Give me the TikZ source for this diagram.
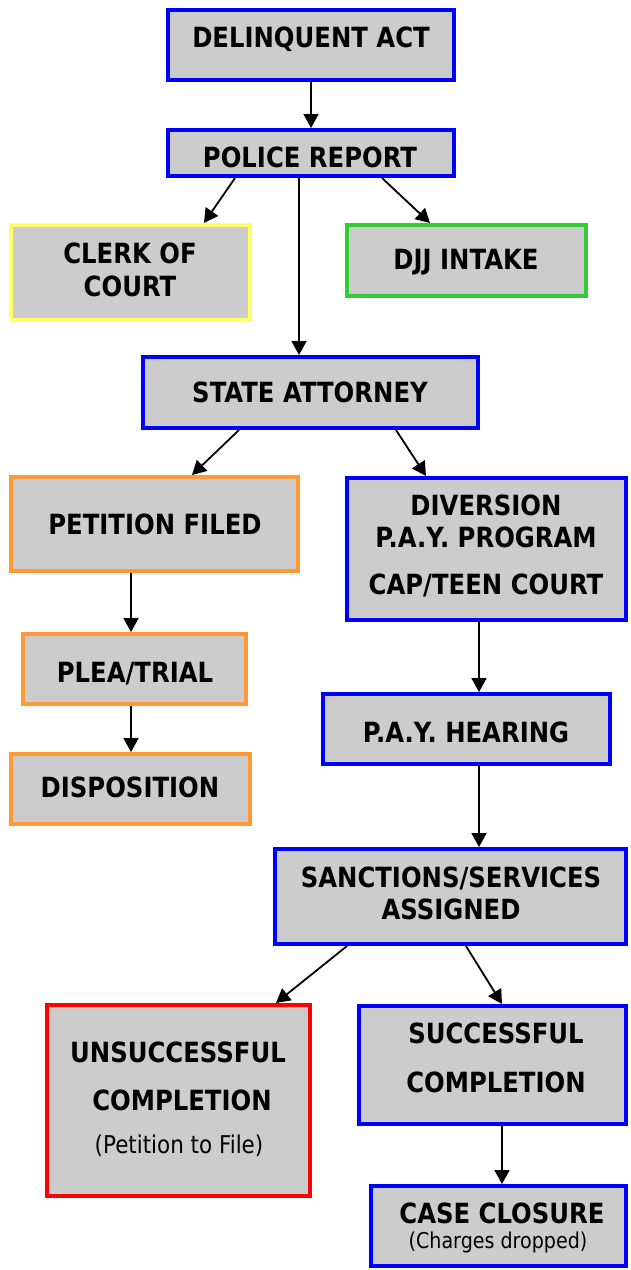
\documentclass[tikz,border=0pt]{standalone}
\usepackage{fontspec}
\setmainfont{DejaVu Sans}[FakeStretch=0.875]
\usetikzlibrary{arrows.meta}
\definecolor{bxfill}{HTML}{CCCCCC}
\definecolor{bblue}{HTML}{0000FF}
\definecolor{byellow}{HTML}{FFFF66}
\definecolor{bgreen}{HTML}{33CC33}
\definecolor{borange}{HTML}{FF9933}
\definecolor{bred}{HTML}{FF0000}
\tikzset{
  box/.style={rectangle, fill=bxfill, line width=4pt, inner sep=0pt},
  lbl/.style={anchor=base, inner sep=0pt, font=\fontsize{27.8}{32}\selectfont\bfseries},
  sublbl/.style={anchor=base, inner sep=0pt, font=\fontsize{24.5}{28}\selectfont},
  sublblb/.style={anchor=base, inner sep=0pt, font=\fontsize{21.8}{26}\selectfont},
  arr/.style={line width=1.8pt, -{Triangle[length=14pt,width=15pt]}}
}
\begin{document}
\begin{tikzpicture}[x=1pt,y=-1pt]
\useasboundingbox (0,0) rectangle (630,1270);
% boxes
\node[box, draw=bblue, minimum width=286pt, minimum height=70pt] (da) at (311,45) {};
\node[box, draw=bblue, minimum width=286pt, minimum height=46pt] (pr) at (311,153) {};
\node[box, draw=byellow, minimum width=239pt, minimum height=95pt] (clerk) at (130.5,272.5) {};
\node[box, draw=bgreen, minimum width=239pt, minimum height=71pt] (djj) at (466.5,260.5) {};
\node[box, draw=bblue, minimum width=335pt, minimum height=71pt] (sa) at (310.5,392.5) {};
\node[box, draw=borange, minimum width=287pt, minimum height=94pt] (pet) at (154.5,524) {};
\node[box, draw=bblue, minimum width=279pt, minimum height=142pt] (div) at (486.5,549) {};
\node[box, draw=borange, minimum width=223pt, minimum height=70pt] (plea) at (134.5,669) {};
\node[box, draw=borange, minimum width=239pt, minimum height=70pt] (disp) at (130.5,789) {};
\node[box, draw=bblue, minimum width=287pt, minimum height=70pt] (pay) at (466.5,729) {};
\node[box, draw=bblue, minimum width=351pt, minimum height=95pt] (sanc) at (450.5,896.5) {};
\node[box, draw=bred, minimum width=263pt, minimum height=191pt] (uns) at (178.5,1100.5) {};
\node[box, draw=bblue, minimum width=267pt, minimum height=118pt] (suc) at (492.5,1065) {};
\node[box, draw=bblue, minimum width=255pt, minimum height=80pt] (cc) at (498.5,1226) {};
% texts
\node[lbl] (tda) at (311,47) {DELINQUENT ACT};
\node[lbl] (tpr) at (310,167) {POLICE REPORT};
\node[lbl] (tcl1) at (130,263) {CLERK OF};
\node[lbl] (tcl2) at (130,296) {COURT};
\node[lbl] (tdjj) at (466,269) {DJJ INTAKE};
\node[lbl] (tsa) at (310,402) {STATE ATTORNEY};
\node[lbl] (tpet) at (155,534) {PETITION FILED};
\node[lbl] (tdiv1) at (486,515) {DIVERSION};
\node[lbl] (tdiv2) at (486,547) {P.A.Y. PROGRAM};
\node[lbl] (tdiv3) at (486,594) {CAP/TEEN COURT};
\node[lbl] (tplea) at (135,682) {PLEA/TRIAL};
\node[lbl] (tdisp) at (130,797) {DISPOSITION};
\node[lbl] (tpay) at (466,742) {P.A.Y. HEARING};
\node[lbl] (tsan1) at (451,887) {SANCTIONS/SERVICES};
\node[lbl] (tsan2) at (451,919) {ASSIGNED};
\node[lbl] (tuns1) at (178,1062) {UNSUCCESSFUL};
\node[lbl] (tuns2) at (182,1110) {COMPLETION};
\node[sublbl] (tuns3) at (179,1153) {(Petition to File)};
\node[lbl] (tsuc1) at (496,1043) {SUCCESSFUL};
\node[lbl] (tsuc2) at (496,1092) {COMPLETION};
\node[lbl] (tcc1) at (502,1223) {CASE CLOSURE};
\node[sublblb] (tcc2) at (498,1248) {(Charges dropped)};
% arrows
\draw[arr] (da.south) -- (pr.north);
\draw[arr] ([xshift=-76pt]pr.south) -- ([xshift=73.5pt]clerk.north);
\draw[arr] ([xshift=-12pt]pr.south) -- ([xshift=-11.5pt]sa.north);
\draw[arr] ([xshift=71pt]pr.south) -- ([xshift=-36.5pt]djj.north);
\draw[arr] ([xshift=-71.5pt]sa.south) -- ([xshift=37.5pt]pet.north);
\draw[arr] ([xshift=85.5pt]sa.south) -- ([xshift=-60.5pt]div.north);
\draw[arr] ([xshift=-23.5pt]pet.south) -- ([xshift=-3.5pt]plea.north);
\draw[arr] ([xshift=-3.5pt]plea.south) -- ([xshift=0.5pt]disp.north);
\draw[arr] ([xshift=-7.5pt]div.south) -- ([xshift=12.5pt]pay.north);
\draw[arr] ([xshift=12.5pt]pay.south) -- ([xshift=28.5pt]sanc.north);
\draw[arr] ([xshift=-103.5pt]sanc.south) -- ([xshift=97.5pt]uns.north);
\draw[arr] ([xshift=15.5pt]sanc.south) -- ([xshift=9.5pt]suc.north);
\draw[arr] ([xshift=9.5pt]suc.south) -- ([xshift=3.5pt]cc.north);
\end{tikzpicture}
\end{document}
